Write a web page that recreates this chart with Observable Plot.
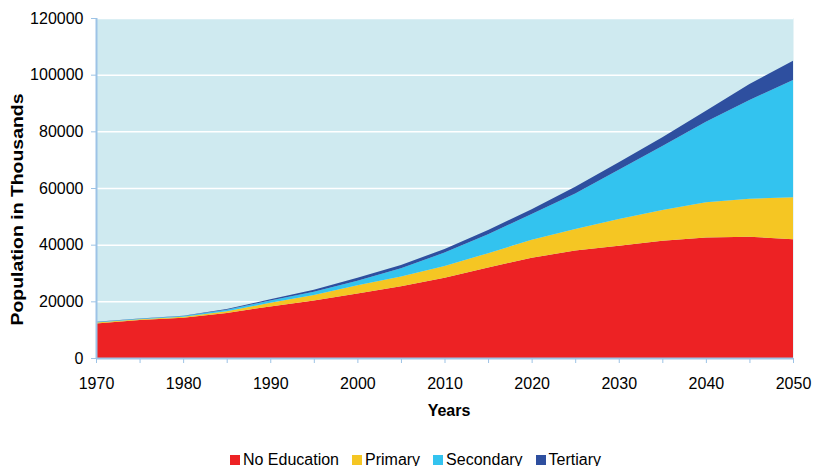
<!DOCTYPE html>
<html>
<head>
<meta charset="utf-8">
<script src="https://cdn.jsdelivr.net/npm/d3@7"></script>
<script src="https://cdn.jsdelivr.net/npm/@observablehq/plot@0.6"></script>
<style>
  body { margin: 0; background: #fff; font-family: "Liberation Sans", Arial, sans-serif; }
  #legend { display: flex; justify-content: center; align-items: center; gap: 13px; font-size: 16px; line-height: 16px; color: #000; padding-left: 18px; }
  #legend .item { display: flex; align-items: center; }
  #legend .sw { width: 10px; height: 10px; margin-right: 3px; }
</style>
</head>
<body>
<div id="chart"></div>
<div id="legend"></div>
<script>
const years = [1970, 1975, 1980, 1985, 1990, 1995, 2000, 2005, 2010, 2015, 2020, 2025, 2030, 2035, 2040, 2045, 2050];
const noEducation = [12200, 13400, 14200, 15900, 18200, 20300, 22800, 25300, 28300, 31900, 35400, 37900, 39600, 41400, 42500, 42800, 41900];
const primary     = [300, 300, 400, 600, 1300, 1900, 2900, 3500, 4200, 5100, 6300, 7600, 9500, 10800, 12500, 13400, 14800];
const secondary   = [200, 150, 200, 500, 800, 1200, 1600, 2900, 4700, 6700, 9100, 12600, 17300, 22600, 28400, 34900, 41400];
const tertiary    = [100, 100, 150, 300, 400, 700, 1000, 1100, 1300, 1500, 1700, 2300, 2700, 3100, 3900, 5600, 6800];

const seriesNames = ["No Education", "Primary", "Secondary", "Tertiary"];
const seriesValues = [noEducation, primary, secondary, tertiary];
const colors = ["#ed2224", "#f5c623", "#33c3ef", "#2e4f9f"];
const yTicks = [0, 20000, 40000, 60000, 80000, 100000, 120000];
const xLabelTicks = [1970, 1980, 1990, 2000, 2010, 2020, 2030, 2040, 2050];
const xTitle = "Years";
const yTitle = "Population in Thousands";

const data = [];
seriesNames.forEach((s, k) => years.forEach((yr, i) => data.push({year: yr, series: s, value: seriesValues[k][i]})));

const axisColor = "#9dc3e6";

const plot = Plot.plot({
  width: 813,
  height: 452,
  marginTop: 18,
  marginLeft: 96,
  marginRight: 20,
  marginBottom: 94,
  x: {domain: [1970, 2050], label: null},
  y: {domain: [0, 120000], label: null},
  color: {domain: seriesNames, range: colors},
  style: {fontFamily: "'Liberation Sans', Arial, sans-serif", fontSize: "16px", color: "#000", background: "#fff"},
  marks: [
    Plot.frame({fill: "#cfeaf0", stroke: "none"}),
    Plot.gridY(yTicks, {stroke: "#fff", strokeOpacity: 1, strokeWidth: 1.5}),
    Plot.areaY(data, {x: "year", y: "value", fill: "series", order: seriesNames}),
    Plot.ruleX([1970], {stroke: axisColor, strokeWidth: 2}),
    Plot.ruleY([0], {stroke: axisColor, strokeWidth: 2}),
    Plot.axisY(yTicks, {tickFormat: d => String(d), stroke: axisColor, tickSize: 5, tickPadding: 8, fill: "#000"}),
    Plot.axisX(years, {tickFormat: () => "", stroke: axisColor, tickSize: 5}),
    Plot.axisX(xLabelTicks, {tickFormat: d => String(d), tickSize: 0, tickPadding: 19, fill: "#000"}),
    Plot.text([xTitle], {frameAnchor: "bottom", dy: 52, dx: 4, fontWeight: "bold", fontSize: 16, lineAnchor: "middle", fill: "#000"}),
    Plot.text([yTitle], {frameAnchor: "left", rotate: -90, dx: -79, dy: 137, textAnchor: "start", fontWeight: "bold", fontSize: 16, lineAnchor: "middle", fill: "#000"})
  ]
});

d3.select(plot).selectAll("text")
  .filter(function () { return this.textContent === yTitle; })
  .attr("textLength", 232)
  .attr("lengthAdjust", "spacingAndGlyphs");

document.getElementById("chart").appendChild(plot);

const legend = d3.select("#legend");
seriesNames.forEach((s, k) => {
  const item = legend.append("div").attr("class", "item");
  item.append("div").attr("class", "sw").style("background", colors[k]);
  item.append("span").text(s);
});
</script>
</body>
</html>
